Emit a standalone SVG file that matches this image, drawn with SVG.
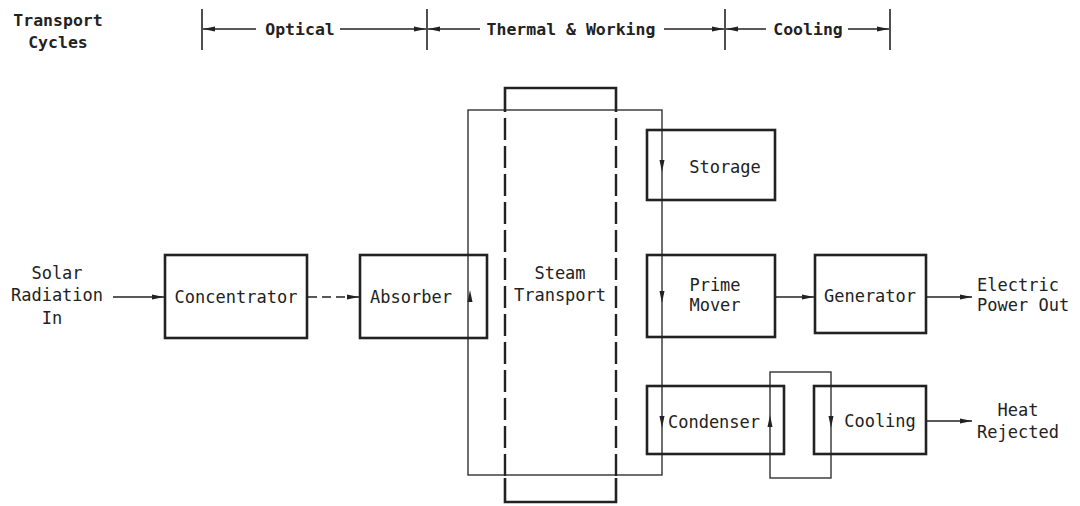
<svg xmlns="http://www.w3.org/2000/svg" width="1080" height="506" viewBox="0 0 1080 506">
<style>
text{font-family:"DejaVu Sans Mono","Liberation Mono",monospace;font-size:17px;fill:#222;text-anchor:middle;dominant-baseline:central}
.hd{font-weight:bold;font-size:16.5px}
.lt{text-anchor:start}
.box{fill:none;stroke:#222;stroke-width:2.6}
.thin{fill:none;stroke:#333;stroke-width:1.4}
.ln{fill:none;stroke:#222;stroke-width:1.5}
.dash{fill:none;stroke:#222;stroke-width:2.4;stroke-dasharray:22,6}
.tick{stroke:#222;stroke-width:1.6}
.ah{fill:#222}
</style>
<defs>
<marker id="arr" viewBox="0 0 12 6" refX="12" refY="3" markerWidth="12" markerHeight="6" markerUnits="userSpaceOnUse" orient="auto">
<path d="M0,0.5 L12,3 L0,5.5 z" fill="#222"/>
</marker>
</defs>
<g id="header">
<text class="hd" x="58" y="20">Transport</text>
<text class="hd" x="58" y="42">Cycles</text>
<line class="tick" x1="202" y1="9" x2="202" y2="50"/>
<line class="tick" x1="427" y1="9" x2="427" y2="50"/>
<line class="tick" x1="725" y1="9" x2="725" y2="50"/>
<line class="tick" x1="890" y1="9" x2="890" y2="50"/>
<text class="hd" x="300" y="29">Optical</text>
<text class="hd" x="571" y="29">Thermal &amp; Working</text>
<text class="hd" x="808" y="29">Cooling</text>
<line class="ln" x1="256" y1="29" x2="203" y2="29" marker-end="url(#arr)"/>
<line class="ln" x1="340" y1="29" x2="426" y2="29" marker-end="url(#arr)"/>
<line class="ln" x1="480" y1="29" x2="428" y2="29" marker-end="url(#arr)"/>
<line class="ln" x1="664" y1="29" x2="724" y2="29" marker-end="url(#arr)"/>
<line class="ln" x1="766" y1="29" x2="726" y2="29" marker-end="url(#arr)"/>
<line class="ln" x1="848" y1="29" x2="889" y2="29" marker-end="url(#arr)"/>
</g>
<g id="connectors">
<line class="ln" x1="113" y1="297" x2="164" y2="297" marker-end="url(#arr)"/>
<line class="ln" x1="308" y1="297" x2="359" y2="297" stroke-dasharray="9,5" marker-end="url(#arr)"/>
<line class="ln" x1="776" y1="297" x2="814" y2="297" marker-end="url(#arr)"/>
<line class="ln" x1="927" y1="297" x2="972" y2="297" marker-end="url(#arr)"/>
<line class="ln" x1="927" y1="421" x2="972" y2="421" marker-end="url(#arr)"/>
<rect class="thin" x="468" y="110" width="194" height="365"/>
<rect class="thin" x="770" y="372" width="61" height="106"/>
<path class="ah" d="M470,290 L467.5,302 L472.5,302 z"/>
<path class="ah" d="M662,172 L659.5,160 L664.5,160 z"/>
<path class="ah" d="M662,303 L659.5,291 L664.5,291 z"/>
<path class="ah" d="M662,428 L659.5,416 L664.5,416 z"/>
<path class="ah" d="M770,415 L767.5,427 L772.5,427 z"/>
<path class="ah" d="M831,428 L828.5,416 L833.5,416 z"/>
</g>
<g id="solar">
<text x="57" y="273">Solar</text>
<text x="57" y="295">Radiation</text>
<text x="52" y="318">In</text>
</g>
<g id="concentrator">
<rect class="box" x="165" y="255" width="142" height="83"/>
<text x="236" y="297">Concentrator</text>
</g>
<g id="absorber">
<rect class="box" x="360" y="255" width="127" height="83"/>
<text x="411" y="297">Absorber</text>
</g>
<g id="steam">
<path class="box" d="M505,112 L505,88 L616,88 L616,112"/>
<path class="box" d="M505,478 L505,502 L616,502 L616,478"/>
<line class="dash" x1="505" y1="118" x2="505" y2="476"/>
<line class="dash" x1="616" y1="118" x2="616" y2="476"/>
<text x="560" y="273">Steam</text>
<text x="560" y="295">Transport</text>
</g>
<g id="storage">
<rect class="box" x="647" y="130" width="128" height="70"/>
<text x="725" y="167">Storage</text>
</g>
<g id="prime-mover">
<rect class="box" x="647" y="255" width="128" height="82"/>
<text x="715" y="285">Prime</text>
<text x="715" y="305">Mover</text>
</g>
<g id="generator">
<rect class="box" x="815" y="255" width="111" height="78"/>
<text x="870" y="296">Generator</text>
</g>
<g id="electric">
<text class="lt" x="977" y="285">Electric</text>
<text class="lt" x="977" y="305">Power Out</text>
</g>
<g id="condenser">
<rect class="box" x="647" y="386" width="137" height="68"/>
<text x="714" y="422">Condenser</text>
</g>
<g id="cooling">
<rect class="box" x="814" y="386" width="112" height="68"/>
<text x="880" y="421">Cooling</text>
</g>
<g id="heat">
<text x="1018" y="410">Heat</text>
<text x="1018" y="432">Rejected</text>
</g>
</svg>
